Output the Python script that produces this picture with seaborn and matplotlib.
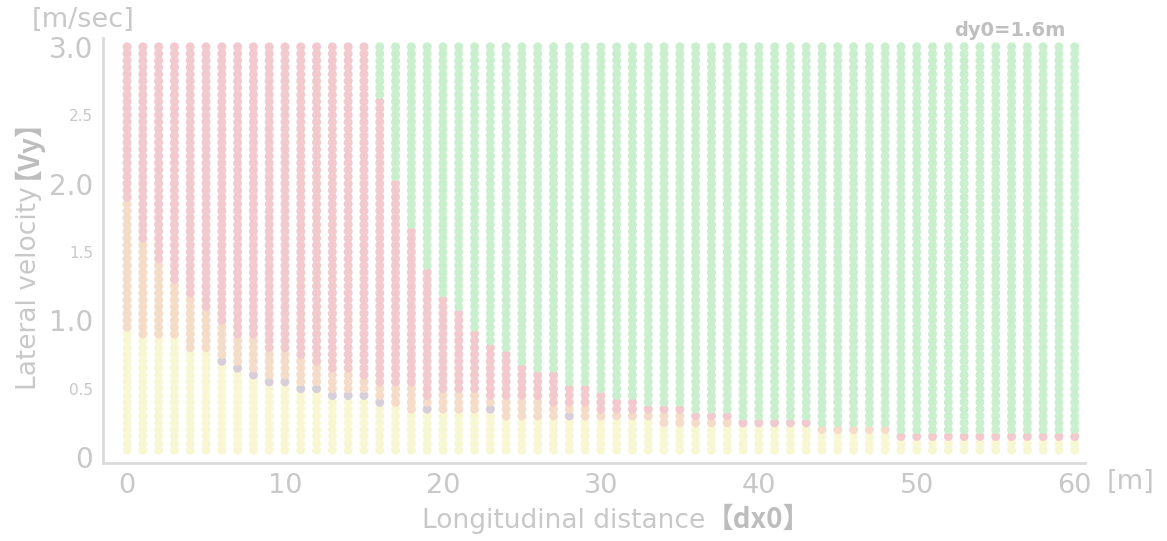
import numpy as np
import pandas as pd
import matplotlib
matplotlib.use("Agg")
import matplotlib.pyplot as plt
import seaborn as sns

# Longitudinal start distance [m] and lateral velocity grid [m/s]
dx_values = list(range(0, 61))
vy_levels = [round(0.05 * k, 2) for k in range(1, 61)]

# Per-distance boundaries (lateral velocity) between outcome zones
green_from = [9.0] * 16 + [
    2.65, 2.05, 1.68, 1.38, 1.20, 1.10, 0.94, 0.84, 0.80, 0.70,
    0.65, 0.61, 0.55, 0.55, 0.50, 0.45, 0.45, 0.40, 0.40, 0.40,
    0.35, 0.35, 0.35, 0.30, 0.30, 0.30, 0.30, 0.30, 0.25, 0.25,
    0.25, 0.25, 0.25, 0.20, 0.20, 0.20, 0.20, 0.20, 0.20, 0.20,
    0.20, 0.20, 0.20, 0.20, 0.20,
]
red_from = [
    1.87, 1.60, 1.45, 1.28, 1.18, 1.08, 0.99, 0.90, 0.87, 0.80,
    0.78, 0.73, 0.70, 0.63, 0.65, 0.58, 0.55, 0.53, 0.52, 0.45,
    0.47, 0.47, 0.46, 0.43, 0.43, 0.42, 0.42, 0.40, 0.40, 0.40,
    0.33, 0.33, 0.33, 0.31, 0.31, 0.31, 0.29, 0.29, 0.29, 0.25,
    0.25, 0.25, 0.25, 0.25, 0.21, 0.21, 0.21, 0.21, 0.21, 0.15,
    0.15, 0.15, 0.15, 0.15, 0.15, 0.15, 0.15, 0.15, 0.15, 0.15,
    0.15,
]
yellow_below = [
    0.95, 0.90, 0.88, 0.86, 0.80, 0.77, 0.70, 0.65, 0.60, 0.55,
    0.53, 0.50, 0.48, 0.45, 0.43, 0.43, 0.40, 0.38, 0.35, 0.35,
    0.35, 0.35, 0.35, 0.35, 0.30, 0.30, 0.30, 0.30, 0.30, 0.30,
    0.30, 0.30, 0.30, 0.30, 0.25, 0.25, 0.25, 0.25, 0.25, 0.25,
    0.25, 0.25, 0.25, 0.25, 0.20, 0.20, 0.20, 0.20, 0.20, 0.12,
    0.12, 0.12, 0.12, 0.12, 0.12, 0.12, 0.12, 0.12, 0.12, 0.12,
    0.12,
]

# Isolated grey cases near the lower boundary
gray_dx = [6, 7, 8, 9, 10, 11, 12, 13, 14, 15, 16, 19, 23, 28]
gray_vy = [0.70, 0.65, 0.60, 0.55, 0.55, 0.50, 0.50, 0.45, 0.45, 0.45, 0.40, 0.35, 0.35, 0.30]

zone_colors = {
    "green": "#c9efce",
    "red": "#f2c9cd",
    "orange": "#f5dcc8",
    "yellow": "#f8f7d3",
    "gray": "#d6cfd9",
}

rows = []
gray_set = set(zip(gray_dx, gray_vy))
for i, dx in enumerate(dx_values):
    for vy in vy_levels:
        if (dx, vy) in gray_set:
            zone = "gray"
        elif vy >= green_from[i] - 1e-9:
            zone = "green"
        elif vy >= red_from[i] - 1e-9:
            zone = "red"
        elif vy >= yellow_below[i] - 1e-9:
            zone = "orange"
        else:
            zone = "yellow"
        rows.append((dx, vy, zone))
df = pd.DataFrame(rows, columns=["dx", "vy", "zone"])

sns.set_style("white")
plt.rcParams["font.family"] = ["DejaVu Sans", "Noto Sans CJK JP"]
cjk = ["Noto Sans CJK JP"]

txt = "#c8c8c8"
fig = plt.figure(figsize=(11.67, 5.41), dpi=100)
ax = fig.add_axes([0.0883, 0.1442, 0.8414, 0.7856])

sns.scatterplot(data=df, x="dx", y="vy", hue="zone", palette=zone_colors,
                s=42, edgecolor="none", linewidth=0, legend=False, ax=ax)

ax.set_xlim(-1.52, 60.65)
ax.set_ylim(-0.044, 3.065)

for side in ("top", "right"):
    ax.spines[side].set_visible(False)
for side in ("left", "bottom"):
    ax.spines[side].set_color("#dadada")
    ax.spines[side].set_linewidth(2)

ax.set_xticks(list(range(0, 61, 10)))
ax.set_xticklabels([str(v) for v in range(0, 61, 10)], fontsize=19.5, color=txt)
ytick_vals = [0, 0.5, 1.0, 1.5, 2.0, 2.5, 3.0]
ytick_text = ["0", "0.5", "1.0", "1.5", "2.0", "2.5", "3.0"]
ax.set_yticks(ytick_vals)
ax.set_yticklabels(ytick_text, color=txt)
for lab, v in zip(ax.get_yticklabels(), ytick_vals):
    lab.set_fontsize(20 if float(v).is_integer() else 11)
ax.tick_params(axis="both", length=3, color="#e0e0e0", width=1, pad=4)
ax.set_xlabel("")
ax.set_ylabel("")

# Axis titles with bold bracketed symbols, sharing one baseline
xl_base = 1 - 528 / 541
t1 = fig.text(422 / 1167, xl_base, "Longitudinal distance", fontsize=19,
              color=txt, ha="left", va="baseline")
ax.annotate("【dx0】", xy=(1, xl_base), xycoords=(t1, "figure fraction"),
            fontsize=20, family=cjk, color="#bdbdbd", fontweight="bold",
            ha="left", va="baseline")

yl_base = 36 / 1167
t2 = fig.text(yl_base, 1 - 390 / 541, "Lateral velocity", fontsize=19,
              color=txt, rotation=90, rotation_mode="anchor",
              ha="left", va="baseline")
ax.annotate("【Vy】", xy=(yl_base, 1), xycoords=("figure fraction", t2),
            xytext=(-10, 5), textcoords="offset points",
            fontsize=20, family=cjk, color="#bdbdbd", fontweight="bold",
            rotation=90, rotation_mode="anchor", ha="left", va="baseline")

fig.text(83 / 1167, 1 - 20 / 541, "[m/sec]", fontsize=19.5, color=txt,
         ha="center", va="center")
fig.text(1131 / 1167, 1 - 482 / 541, "[m]", fontsize=19.5, color=txt,
         ha="center", va="center")
fig.text(1010 / 1167, 1 - 31 / 541, "dy0=1.6m", fontsize=14, color="#bfbfbf",
         fontweight="bold", ha="center", va="center")

fig.savefig("out.png", dpi=100)
